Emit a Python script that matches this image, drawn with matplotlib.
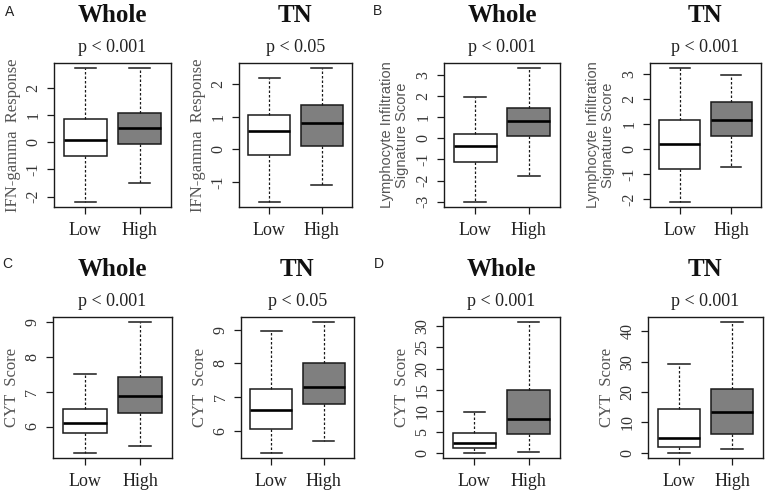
import numpy as np
import matplotlib.pyplot as plt

groups = ['Low', 'High']

# five-number summaries:
# lower whisker, Q1, median, Q3, upper whisker
ifn_whole_low = [-2.18, -0.50, 0.09, 0.86, 2.71]
ifn_whole_high = [-1.51, -0.05, 0.52, 1.09, 2.71]
ifn_tn_low = [-1.61, -0.17, 0.57, 1.07, 2.18]
ifn_tn_high = [-1.09, 0.11, 0.81, 1.375, 2.49]

lym_whole_low = [-3.00, -1.12, -0.37, 0.18, 1.94]
lym_whole_high = [-1.81, 0.11, 0.82, 1.43, 3.30]
lym_tn_low = [-2.09, -0.79, 0.21, 1.18, 3.22]
lym_tn_high = [-0.71, 0.52, 1.15, 1.86, 2.95]

cyt_whole_low = [5.25, 5.82, 6.11, 6.50, 7.51]
cyt_whole_high = [5.44, 6.40, 6.88, 7.42, 8.98]
cyt_tn_low = [5.36, 6.07, 6.61, 7.26, 8.95]
cyt_tn_high = [5.71, 6.79, 7.30, 8.00, 9.22]

cyt2_whole_low = [0.0, 1.18, 2.44, 4.72, 9.76]
cyt2_whole_high = [0.24, 4.49, 8.03, 14.8, 31.0]
cyt2_tn_low = [0.0, 1.96, 4.9, 14.4, 29.4]
cyt2_tn_high = [1.09, 6.2, 13.4, 21.0, 43.0]

titles = ['Whole', 'TN', 'Whole', 'TN', 'Whole', 'TN', 'Whole', 'TN']
pvals = ['p < 0.001', 'p < 0.05', 'p < 0.001', 'p < 0.001',
         'p < 0.001', 'p < 0.05', 'p < 0.001', 'p < 0.001']
ylabels = ['IFN-gamma  Response', 'IFN-gamma  Response',
           'Lymphocyte Infiltration\nSignature Score', 'Lymphocyte Infiltration\nSignature Score',
           'CYT  Score', 'CYT  Score', 'CYT  Score', 'CYT  Score']
yticks = [[-2, -1, 0, 1, 2], [-1, 0, 1, 2], [-3, -2, -1, 0, 1, 2, 3], [-2, -1, 0, 1, 2, 3],
          [6, 7, 8, 9], [6, 7, 8, 9], [0, 5, 10, 15, 20, 25, 30], [0, 10, 20, 30, 40]]
data = [(ifn_whole_low, ifn_whole_high), (ifn_tn_low, ifn_tn_high),
        (lym_whole_low, lym_whole_high), (lym_tn_low, lym_tn_high),
        (cyt_whole_low, cyt_whole_high), (cyt_tn_low, cyt_tn_high),
        (cyt2_whole_low, cyt2_whole_high), (cyt2_tn_low, cyt2_tn_high)]

# axes boxes in pixels: left, right, top, bottom
boxes = [(54, 171, 63, 207), (239, 352, 63, 207), (444, 560, 63, 207), (650, 761, 63, 207),
         (53, 172, 317, 458), (241, 354, 317, 458), (443, 560, 317, 458), (648, 763, 317, 458)]

W, H = 770, 500
serif = 'Liberation Serif'
sans = 'Liberation Sans'
ink = '#1a1a1a'

fig = plt.figure(figsize=(W / 100, H / 100), dpi=100)

for i in range(8):
    l, r, t, b = boxes[i]
    ax = fig.add_axes([l / W, 1 - b / H, (r - l) / W, (b - t) / H])
    stats = []
    for s in data[i]:
        stats.append(dict(whislo=s[0], q1=s[1], med=s[2], q3=s[3], whishi=s[4], fliers=[]))
    bp = ax.bxp(stats, positions=[1, 2], widths=0.8, patch_artist=True, showfliers=False,
                capwidths=0.4,
                boxprops=dict(edgecolor=ink, linewidth=1.1),
                medianprops=dict(color='black', linewidth=1.9, solid_capstyle='butt'),
                whiskerprops=dict(color=ink, linewidth=0.9, linestyle=(0, (2, 1.6))),
                capprops=dict(color=ink, linewidth=1.1))
    bp['boxes'][0].set_facecolor('white')
    bp['boxes'][1].set_facecolor('#7f7f7f')

    lo = min(data[i][0][0], data[i][1][0])
    hi = max(data[i][0][4], data[i][1][4])
    pad = (hi - lo) * 0.04
    ax.set_ylim(lo - pad, hi + pad)
    ax.set_xlim(0.42, 2.58)

    ax.set_yticks(yticks[i])
    ax.set_yticklabels([str(v) for v in yticks[i]], rotation=90, va='center',
                       fontfamily=serif, fontsize=11.5, color='#333333')
    ax.set_xticks([1, 2])
    ax.set_xticklabels(groups, fontfamily=serif, fontsize=13, color='#222222')
    ax.tick_params(direction='out', length=5, width=0.9, color=ink)
    ax.tick_params(axis='x', pad=6)
    ax.tick_params(axis='y', pad=4)
    for sp in ax.spines.values():
        sp.set_linewidth(1.0)
        sp.set_color(ink)

    cx = (l + r) / 2 / W
    fig.text(cx, 1 - (t - 47) / H, titles[i], ha='center', va='center',
             fontfamily=serif, fontweight='bold', fontsize=18, color='#111111')
    fig.text(cx, 1 - (t - 15) / H, pvals[i], ha='center', va='center',
             fontfamily=serif, fontsize=13, color='#222222')

    if 'Lymphocyte' in ylabels[i]:
        ax.text(-49.5 / (r - l), 0.5, ylabels[i], transform=ax.transAxes, rotation=90,
                ha='center', va='center', multialignment='center', linespacing=1.05,
                fontfamily=sans, fontsize=10.5, color='#555555')
    else:
        ax.text(-41.0 / (r - l), 0.5, ylabels[i], transform=ax.transAxes, rotation=90,
                ha='center', va='center', fontfamily=serif, fontsize=12, color='#555555')

# panel letters
for letter, x, y in [('A', 9.5, 12.5), ('B', 377, 11), ('C', 7.5, 264), ('D', 379, 264)]:
    fig.text(x / W, 1 - y / H, letter, ha='center', va='center',
             fontfamily=sans, fontsize=10, color='#222222')

fig.savefig('out.png', dpi=100)
